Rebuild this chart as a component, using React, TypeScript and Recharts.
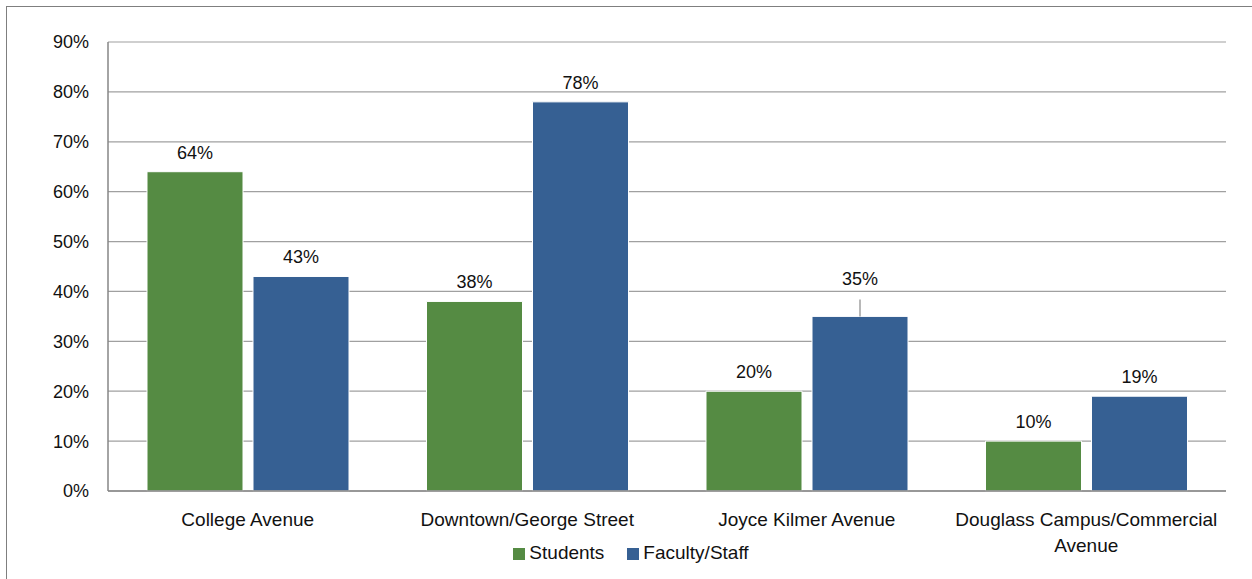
import React from "react";
import { BarChart, Bar, XAxis, YAxis, CartesianGrid, Legend, LabelList } from "recharts";

const locations = [
  "College Avenue",
  "Downtown/George Street",
  "Joyce Kilmer Avenue",
  "Douglass Campus/Commercial Avenue",
];
const students = [64, 38, 20, 10];
const facultyStaff = [43, 78, 35, 19];
const yTicks = [0, 10, 20, 30, 40, 50, 60, 70, 80, 90];

// the 35% label sits higher with a leader line in the original
const liftedLabel = "Joyce Kilmer Avenue";

const FONT = "'Liberation Sans', Arial, sans-serif";
const GREEN = "#558b43";
const BLUE = "#366093";
const MAX_LINE_CHARS = 28;

const data = locations.map((name, i) => ({
  name,
  students: students[i],
  faculty: facultyStaff[i],
}));

function wrapLabel(label: string) {
  const words = label.split(" ");
  const lines: string[] = [];
  let cur = "";
  words.forEach((w) => {
    const next = cur ? cur + " " + w : w;
    if (next.length > MAX_LINE_CHARS && cur) {
      lines.push(cur);
      cur = w;
    } else {
      cur = next;
    }
  });
  if (cur) lines.push(cur);
  return lines;
}

function CategoryTick(props: any) {
  const { x, y, payload } = props;
  const lines = wrapLabel(String(payload.value));
  return (
    <text
      x={x}
      y={y + 27}
      textAnchor="middle"
      style={{ fontFamily: FONT, fontSize: 19, fill: "#111" }}
    >
      {lines.map((line, i) => (
        <tspan key={i} x={x} dy={i === 0 ? 0 : 26}>
          {line}
        </tspan>
      ))}
    </text>
  );
}

function makeLabel(lifted: boolean) {
  return function BarLabel(props: any) {
    const { x, y, width, value, index } = props;
    const cx = x + width / 2;
    const lift = lifted && locations[index] === liftedLabel ? 18 : 0;
    return (
      <g>
        {lift > 0 && (
          <line x1={cx} x2={cx} y1={y} y2={y - lift + 1} stroke="#a0a0a0" strokeWidth={1.5} />
        )}
        <text
          x={cx}
          y={y - 13 - lift}
          textAnchor="middle"
          style={{ fontFamily: FONT, fontSize: 18, fill: "#111" }}
        >
          {value}%
        </text>
      </g>
    );
  };
}

export default function App() {
  return (
    <div
      style={{
        position: "absolute",
        left: 6,
        top: 6,
        width: 1260,
        height: 590,
        border: "1px solid #7f7f7f",
        background: "#fff",
      }}
    >
      <BarChart
        width={1246}
        height={573}
        data={data}
        margin={{ top: 35, right: 27, bottom: 0, left: 0 }}
        barGap={10}
        barCategoryGap={39}
      >
        <CartesianGrid vertical={false} stroke="#a0a0a0" strokeWidth={1.2} />
        <XAxis
          dataKey="name"
          height={89}
          interval={0}
          tickLine={false}
          axisLine={{ stroke: "#868686", strokeWidth: 1.5 }}
          tick={<CategoryTick />}
        />
        <YAxis
          width={101}
          domain={[0, 90]}
          ticks={yTicks}
          tickFormatter={(v) => `${v}%`}
          tickLine={false}
          tickSize={0}
          tickMargin={19}
          axisLine={{ stroke: "#868686", strokeWidth: 1.5 }}
          tick={{ fontFamily: FONT, fontSize: 18, fill: "#111" }}
        />
        <Legend
          layout="horizontal"
          verticalAlign="middle"
          align="center"
          iconType="square"
          iconSize={12}
          itemSorter={(item: any) => (item.value === "Students" ? 0 : 1)}
          wrapperStyle={{ top: 535, left: -1, width: 1260, fontFamily: FONT, fontSize: 19 }}
          formatter={(value) => (
            <span style={{ color: "#111", paddingRight: value === "Students" ? 13 : 0 }}>{value}</span>
          )}
        />
        <Bar dataKey="students" name="Students" fill={GREEN} stroke="#fff" strokeWidth={1} isAnimationActive={false}>
          <LabelList dataKey="students" content={makeLabel(false)} />
        </Bar>
        <Bar dataKey="faculty" name="Faculty/Staff" fill={BLUE} stroke="#fff" strokeWidth={1} isAnimationActive={false}>
          <LabelList dataKey="faculty" content={makeLabel(true)} />
        </Bar>
      </BarChart>
    </div>
  );
}
